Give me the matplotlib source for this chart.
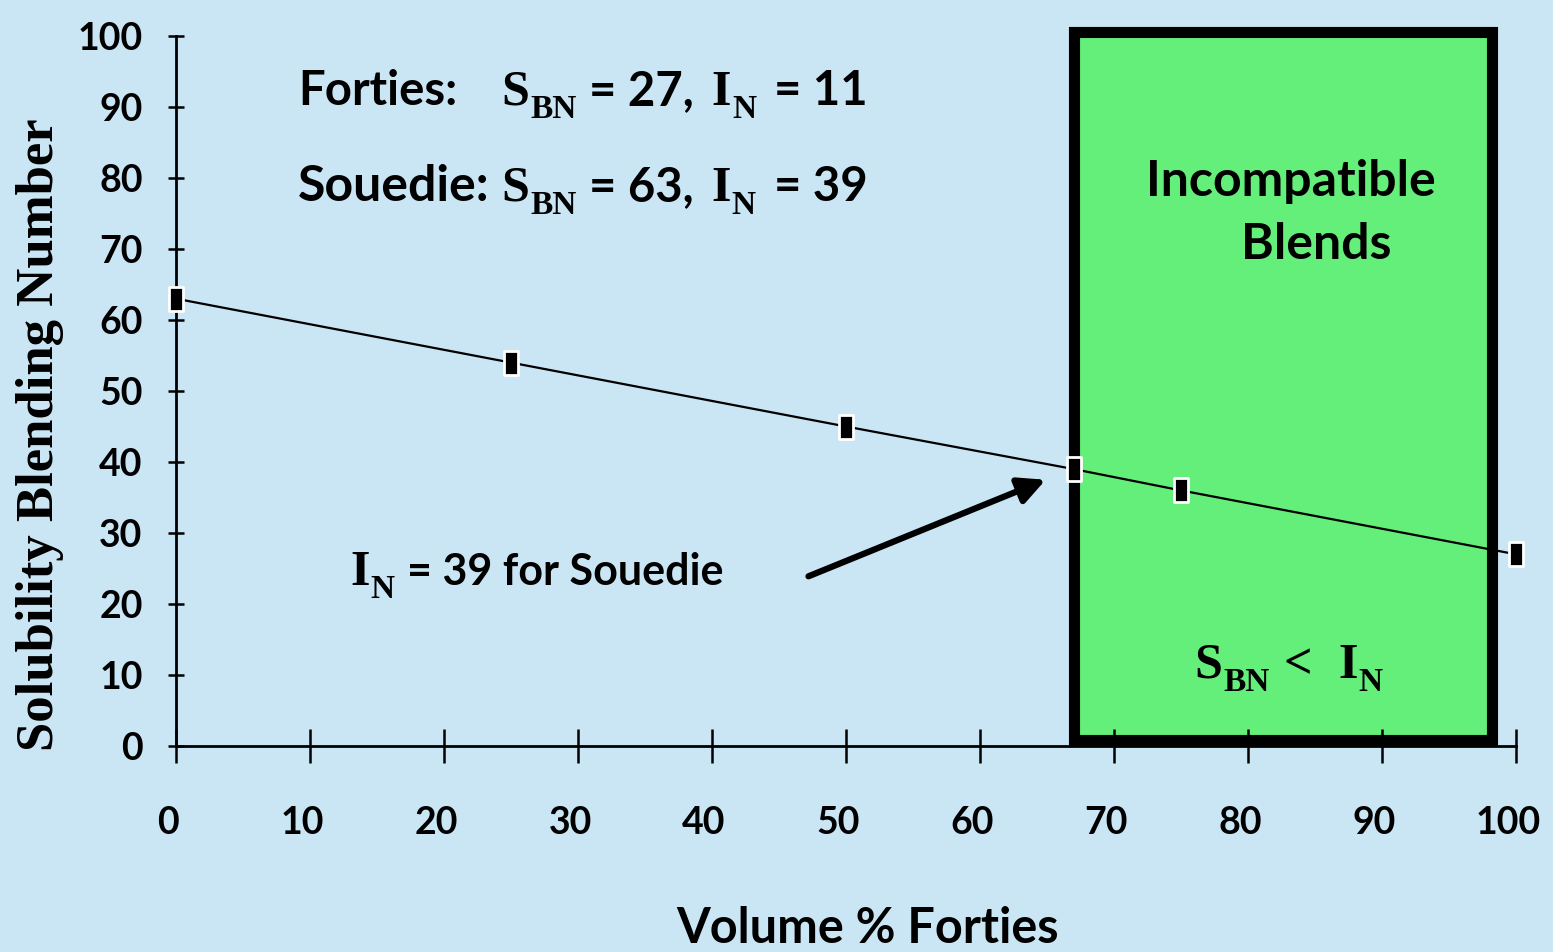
import matplotlib.pyplot as plt
import numpy as np
from matplotlib.path import Path
from matplotlib.patches import Rectangle
from matplotlib.transforms import IdentityTransform, ScaledTranslation

# data
vol_forties = [0, 25, 50, 67, 75, 100]
sbn = [63, 54, 45, 39, 36, 27]
xticks = np.arange(0, 101, 10)
yticks = np.arange(0, 101, 10)
box_x = [67, 98.2]
box_y = [0.9, 100.6]

bg = '#cae5f4'
green = '#64ee7a'
sans = 'Lato'
serif = 'Liberation Serif'

fig = plt.figure(figsize=(15.53, 9.52), dpi=100)
fig.patch.set_facecolor(bg)
ax = fig.add_axes([176/1553, 1-746/952, 1340/1553, 710/952])
ax.set_facecolor(bg)
ax.set_xlim(0, 100)
ax.set_ylim(0, 100)

# incompatible region
ax.add_patch(Rectangle((box_x[0], box_y[0]), box_x[1]-box_x[0], box_y[1]-box_y[0],
                       facecolor=green, edgecolor='black', lw=8, clip_on=False, zorder=1))

# rectangular markers (taller than wide)
rect = Path([(-0.6, -1), (0.6, -1), (0.6, 1), (-0.6, 1), (-0.6, -1)],
            [Path.MOVETO, Path.LINETO, Path.LINETO, Path.LINETO, Path.CLOSEPOLY])
ax.plot(vol_forties, sbn, color='black', lw=1.6, marker=rect, ms=17,
        mfc='black', mec='white', mew=2, clip_on=False, zorder=4)

for s in ['top', 'right']:
    ax.spines[s].set_visible(False)
for s in ['left', 'bottom']:
    ax.spines[s].set_linewidth(2)
ax.set_xticks(xticks)
ax.set_yticks(yticks)
ax.tick_params(axis='x', direction='inout', length=24, width=1.8, pad=31)
ax.tick_params(axis='y', direction='inout', length=12, width=1.8, pad=18)
shift = ScaledTranslation(-8/100, 0, fig.dpi_scale_trans)
for lab in ax.get_xticklabels():
    lab.set_transform(lab.get_transform() + shift)
for lab in ax.get_xticklabels() + ax.get_yticklabels():
    lab.set_fontfamily(sans)
    lab.set_fontweight('bold')
    lab.set_fontsize(27)

ax.set_xlabel('Volume % Forties', fontfamily=sans, fontweight='bold', fontsize=35)
ax.xaxis.set_label_coords((868-176)/1340, (746-906)/710)
ax.set_ylabel('Solubility Blending Number', fontfamily=serif, fontweight='bold', fontsize=38)
ax.yaxis.set_label_coords((64-176)/1340, (746-435)/710)

renderer = fig.canvas.get_renderer()


def chain(x, y, parts):
    # parts: (text, family, size, dy in px, gap before in px)
    x0, y0 = ax.transData.transform((x, y))
    for s, fam, size, dy, gap in parts:
        t = ax.text(x0 + gap, y0 + dy, s, transform=IdentityTransform(), fontfamily=fam,
                    fontweight='bold', fontsize=size, va='baseline', ha='left', zorder=5)
        x0 = t.get_window_extent(renderer).x1


def s_bn(val_s, val_i):
    return [('S', serif, 36, 0, 0), ('BN', serif, 24, -13, 1),
            ('= ' + val_s + ',', sans, 34, 0, 12),
            ('I', serif, 36, 0, 18), ('N', serif, 24, -13, 1),
            ('= ' + val_i, sans, 34, 0, 18)]


chain(9.1, 90.3, [('Forties:', sans, 34, 0, 0)])
chain(24.3, 90.3, s_bn('27', '11'))
chain(9.1, 76.8, [('Souedie:', sans, 36, 0, 0)])
chain(24.3, 76.8, s_bn('63', '39'))

chain(13.0, 22.7, [('I', serif, 36, 0, 0), ('N', serif, 24, -13, 1),
                   ('= 39 for Souedie', sans, 31, 0, 12)])

chain(76.0, 9.6, [('S', serif, 36, 0, 0), ('BN', serif, 24, -13, 1),
                  ('<', serif, 36, 0, 14),
                  ('I', serif, 36, 0, 26), ('N', serif, 24, -13, 1)])

ax.text(83.2, 77.5, 'Incompatible', fontfamily=sans, fontweight='bold', fontsize=36,
        ha='center', va='baseline', zorder=5)
ax.text(85.1, 68.6, 'Blends', fontfamily=sans, fontweight='bold', fontsize=36,
        ha='center', va='baseline', zorder=5)

ax.annotate('', xy=(64.9, 37.5), xytext=(47.2, 23.9),
            arrowprops=dict(arrowstyle='-|>', lw=4.5, color='black', mutation_scale=40,
                            shrinkA=0, shrinkB=0), zorder=5)

fig.savefig('out.png', dpi=100, facecolor=bg)
